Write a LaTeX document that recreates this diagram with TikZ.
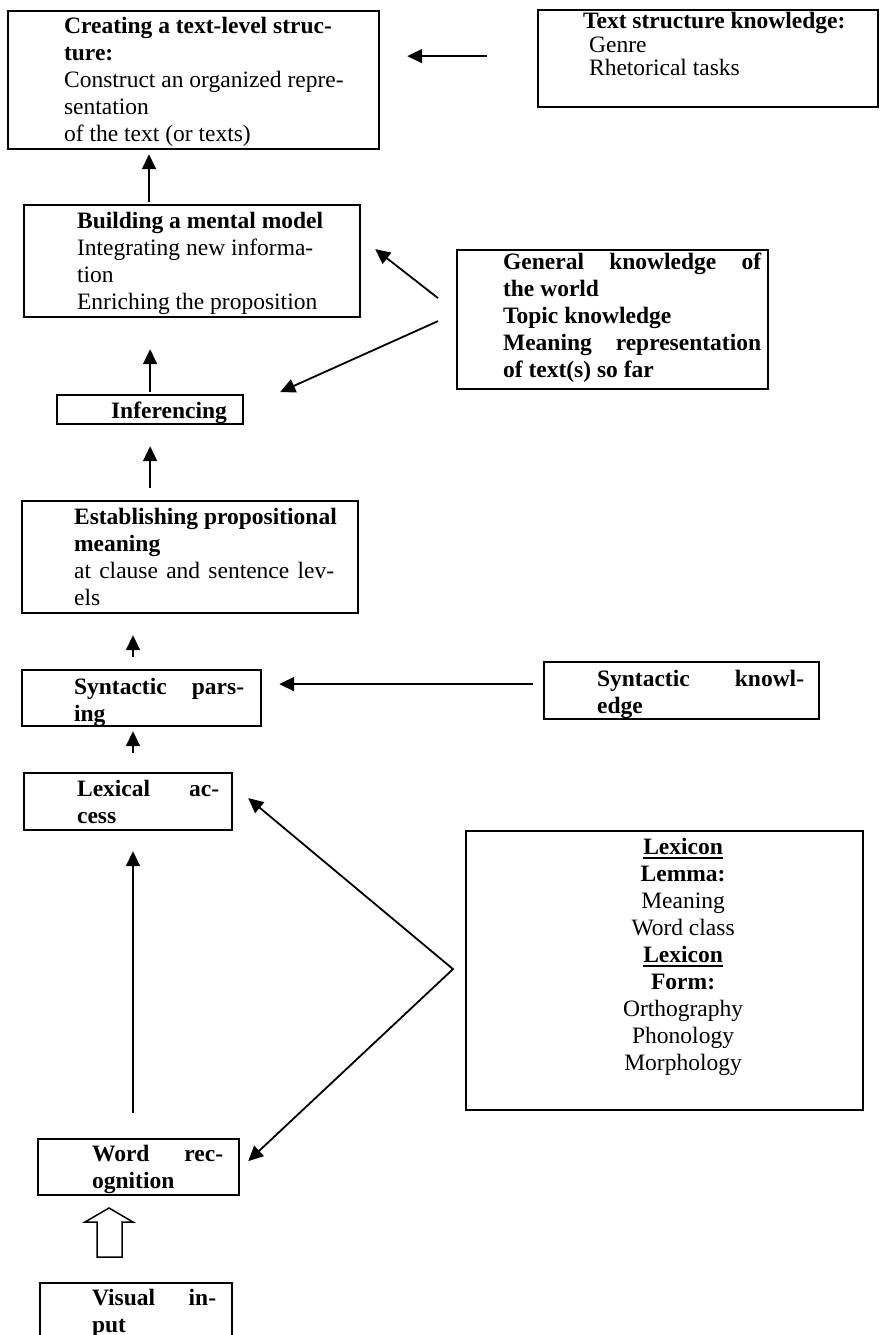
\documentclass[tikz,border=0pt]{standalone}
\usepackage{fontspec}
\setmainfont{Liberation Serif}
\usepackage{tikz}
\usetikzlibrary{arrows.meta,calc}

% framed text block: width, height, top gap, text
\newcommand{\cell}[4]{\parbox[t][#2][t]{#1}{\vspace*{#3}#4}}
% left indent for ragged lines
\newcommand{\ind}[1]{\leftskip=#1\rightskip=0pt plus 1fil\parfillskip=0pt plus 1fil\relax}
% justified line of given width
\newcommand{\jl}[2]{\makebox[#1][s]{#2}}
% heavy underline
\newcommand{\ulb}[1]{\leavevmode\setbox0\hbox{#1}\rlap{\rule[-2.4pt]{\wd0}{1pt}}\box0}

\begin{document}
\begin{tikzpicture}[x=0.5pt, y=-0.5pt,
    box/.style={draw, line width=1.1pt, inner sep=0pt, anchor=north west,
        font=\fontsize{11.75}{13.5}\selectfont},
    arr/.style={line width=0.9pt, -{Triangle[length=7.5pt,width=7pt]}},
    arrs/.style={line width=0.9pt, {Triangle[length=7.5pt,width=7pt]}-{Triangle[length=7.5pt,width=7pt]}}]
    \useasboundingbox (0,0) rectangle (881,1335);

    % Left column
    \node[box] (create) at (7,10) {\cell{185.5pt}{69pt}{2.8pt}{\ind{28pt}%
        \textbf{Creating a text-level struc-}\\
        \textbf{ture:}\\
        Construct an organized repre-\\
        sentation\\
        of the text (or texts)}};
    \node[box] (build) at (23,204) {\cell{168pt}{56pt}{3.3pt}{\ind{26.5pt}%
        \textbf{Building a mental model}\\
        Integrating new informa-\\
        tion\\
        Enriching the proposition}};
    \node[box] (infer) at (56,394) {\cell{93pt}{14.5pt}{3.6pt}{\ind{27pt}%
        \textbf{Inferencing}}};
    \node[box] (establish) at (21,500) {\cell{168pt}{56pt}{3.6pt}{\ind{26pt}%
        \textbf{Establishing propositional}\\
        \textbf{meaning}\\
        \jl{130pt}{at clause and sentence lev-}\\
        els}};
    \node[box] (synparse) at (21,669) {\cell{119.5pt}{28pt}{4.1pt}{\ind{26pt}\bfseries
        \jl{85pt}{Syntactic pars-}\\
        ing}};
    \node[box] (lexacc) at (23,772) {\cell{104pt}{28.5pt}{3.6pt}{\ind{26.5pt}\bfseries
        \jl{71pt}{Lexical ac-}\\
        cess}};
    \node[box] (word) at (37,1138) {\cell{100.5pt}{28pt}{3.1pt}{\ind{27pt}\bfseries
        \jl{65.5pt}{Word rec-}\\
        ognition}};
    \node[box] (visual) at (39,1282) {\cell{96pt}{29pt}{3.1pt}{\ind{26pt}\bfseries
        \jl{62pt}{Visual in-}\\
        put}};

    % Knowledge sources
    \node[box] (struct) at (537,9) {\cell{170pt}{48.5pt}{1.2pt}{\ind{22.5pt}%
        \fontsize{11.75}{11.7}\selectfont
        \textbf{Text structure knowledge:}\\
        \hspace*{3pt}Genre\\
        \hspace*{3pt}Rhetorical tasks}};
    \node[box] (general) at (456,249) {\cell{155.5pt}{69.5pt}{1.3pt}{\ind{23pt}\bfseries
        \jl{129pt}{General knowledge of}\\
        the world\\
        Topic knowledge\\
        \jl{129pt}{Meaning representation}\\
        of text(s) so far}};
    \node[box] (synknow) at (543,661) {\cell{137.5pt}{28.5pt}{4.1pt}{\ind{26.5pt}\bfseries
        \jl{103.5pt}{Syntactic knowl-}\\
        edge}};
    \node[box] (lexicon) at (465,830) {\cell{198.5pt}{139.5pt}{3.6pt}{\centering
        \leftskip=18.5pt plus 1fil
        \ulb{\textbf{Lexicon}}\\
        \textbf{Lemma:}\\
        Meaning\\
        Word class\\
        \ulb{\textbf{Lexicon}}\\
        \textbf{Form:}\\
        Orthography\\
        Phonology\\
        Morphology}};

    \coordinate (colA) at (149,0);
    \coordinate (colB) at (133,0);
    \coordinate (fork) at ($(lexicon.west)+(-12,-1.5)$);

    % Upward flow
    \draw[arr] ($(build.north -| colA)+(0,-2)$) -- ($(create.south -| colA)+(0,4)$);
    \draw[arr] ($(infer.north)+(0,-2)$) -- ($(build.south -| infer.north)+(0,31)$);
    \draw[arr] ($(establish.north -| infer.south)+(0,-12)$) -- ($(infer.south)+(0,21)$);
    \draw[arr] ($(synparse.north -| colB)+(0,-12)$) -- ($(establish.south -| colB)+(0,21)$);
    \draw[arr] ($(lexacc.north -| colB)+(0,-19)$) -- ($(synparse.south -| colB)+(0,4)$);
    \draw[arr] ($(word.north -| colB)+(0,-25)$) -- ($(lexacc.south -| colB)+(0,20)$);

    % Knowledge feeding in
    \draw[arr] ($(struct.west)+(-50,-2.5)$) -- ($(create.east)+(27,-24)$);
    \draw[arr] ($(general.west)+(-18,-21.5)$) -- ($(build.east)+(14,-12)$);
    \draw[arr] ($(general.west)+(-18,1.5)$) -- ($(infer.north east)+(36,-2)$);
    \draw[arr] ($(synknow.west)+(-10,-6.5)$) -- ($(synparse.east)+(17,-14)$);
    \draw[arrs] ($(lexacc.east)+(15,-3.5)$) -- (fork) -- ($(word.east)+(8,-6)$);

    % Visual input arrow
    \draw[line width=0.75pt] (97,1257) -- (97,1222) -- (85,1222) -- (109,1208)
        -- (133,1222) -- (122,1222) -- (122,1257) -- cycle;
\end{tikzpicture}
\end{document}
